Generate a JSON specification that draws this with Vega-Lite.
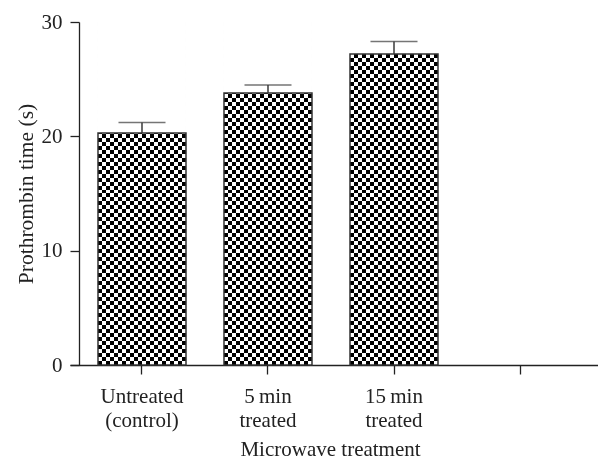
{
"$schema":"https://vega.github.io/schema/vega-lite/v6.json",
"autosize":"none",
"width":528,"height":343,
"padding":{"left":70,"top":22,"right":0,"bottom":96},
"background":"white",
"data":{"values":[
{"treatment":"Untreated|(control)","mean":20.3,"upper":21.2},
{"treatment":"5\u2009min|treated","mean":23.8,"upper":24.5},
{"treatment":"15\u2009min|treated","mean":27.2,"upper":28.3}
]},
"encoding":{
"x":{"field":"treatment","type":"nominal","title":"Microwave treatment",
"scale":{"domain":["Untreated|(control)","5\u2009min|treated","15\u2009min|treated","blank"],"paddingInner":0.3016,"paddingOuter":0.246,"align":0.4516}}
},
"layer":[
{"mark":{"type":"bar","fill":{"gradient":"linear","x1":0,"y1":0,"x2":1,"y2":0,"stops":[
{"offset":0,"color":"#000"},
{"offset":0.04545,"color":"#000"},{"offset":0.04545,"color":"#fff"},
{"offset":0.09091,"color":"#fff"},{"offset":0.09091,"color":"#000"},
{"offset":0.13636,"color":"#000"},{"offset":0.13636,"color":"#fff"},
{"offset":0.18182,"color":"#fff"},{"offset":0.18182,"color":"#000"},
{"offset":0.22727,"color":"#000"},{"offset":0.22727,"color":"#fff"},
{"offset":0.27273,"color":"#fff"},{"offset":0.27273,"color":"#000"},
{"offset":0.31818,"color":"#000"},{"offset":0.31818,"color":"#fff"},
{"offset":0.36364,"color":"#fff"},{"offset":0.36364,"color":"#000"},
{"offset":0.40909,"color":"#000"},{"offset":0.40909,"color":"#fff"},
{"offset":0.45455,"color":"#fff"},{"offset":0.45455,"color":"#000"},
{"offset":0.5,"color":"#000"},{"offset":0.5,"color":"#fff"},
{"offset":0.54545,"color":"#fff"},{"offset":0.54545,"color":"#000"},
{"offset":0.59091,"color":"#000"},{"offset":0.59091,"color":"#fff"},
{"offset":0.63636,"color":"#fff"},{"offset":0.63636,"color":"#000"},
{"offset":0.68182,"color":"#000"},{"offset":0.68182,"color":"#fff"},
{"offset":0.72727,"color":"#fff"},{"offset":0.72727,"color":"#000"},
{"offset":0.77273,"color":"#000"},{"offset":0.77273,"color":"#fff"},
{"offset":0.81818,"color":"#fff"},{"offset":0.81818,"color":"#000"},
{"offset":0.86364,"color":"#000"},{"offset":0.86364,"color":"#fff"},
{"offset":0.90909,"color":"#fff"},{"offset":0.90909,"color":"#000"},
{"offset":0.95455,"color":"#000"},{"offset":0.95455,"color":"#fff"},
{"offset":1,"color":"#fff"}
]}},
"encoding":{"y":{"field":"mean","type":"quantitative","title":"Prothrombin time (s)","scale":{"domain":[0,30],"nice":false},"axis":{"values":[0,10,20,30]}}}},
{"mark":{"type":"bar","blend":"difference","fill":{"gradient":"linear","x1":0,"y1":0,"x2":0,"y2":1,"stops":[
{"offset":0,"color":"#fff"},
{"offset":0.01163,"color":"#fff"},{"offset":0.01163,"color":"#000"},
{"offset":0.02326,"color":"#000"},{"offset":0.02326,"color":"#fff"},
{"offset":0.03488,"color":"#fff"},{"offset":0.03488,"color":"#000"},
{"offset":0.04651,"color":"#000"},{"offset":0.04651,"color":"#fff"},
{"offset":0.05814,"color":"#fff"},{"offset":0.05814,"color":"#000"},
{"offset":0.06977,"color":"#000"},{"offset":0.06977,"color":"#fff"},
{"offset":0.08140,"color":"#fff"},{"offset":0.08140,"color":"#000"},
{"offset":0.09302,"color":"#000"},{"offset":0.09302,"color":"#fff"},
{"offset":0.10465,"color":"#fff"},{"offset":0.10465,"color":"#000"},
{"offset":0.11628,"color":"#000"},{"offset":0.11628,"color":"#fff"},
{"offset":0.12791,"color":"#fff"},{"offset":0.12791,"color":"#000"},
{"offset":0.13953,"color":"#000"},{"offset":0.13953,"color":"#fff"},
{"offset":0.15116,"color":"#fff"},{"offset":0.15116,"color":"#000"},
{"offset":0.16279,"color":"#000"},{"offset":0.16279,"color":"#fff"},
{"offset":0.17442,"color":"#fff"},{"offset":0.17442,"color":"#000"},
{"offset":0.18605,"color":"#000"},{"offset":0.18605,"color":"#fff"},
{"offset":0.19767,"color":"#fff"},{"offset":0.19767,"color":"#000"},
{"offset":0.20930,"color":"#000"},{"offset":0.20930,"color":"#fff"},
{"offset":0.22093,"color":"#fff"},{"offset":0.22093,"color":"#000"},
{"offset":0.23256,"color":"#000"},{"offset":0.23256,"color":"#fff"},
{"offset":0.24419,"color":"#fff"},{"offset":0.24419,"color":"#000"},
{"offset":0.25581,"color":"#000"},{"offset":0.25581,"color":"#fff"},
{"offset":0.26744,"color":"#fff"},{"offset":0.26744,"color":"#000"},
{"offset":0.27907,"color":"#000"},{"offset":0.27907,"color":"#fff"},
{"offset":0.29070,"color":"#fff"},{"offset":0.29070,"color":"#000"},
{"offset":0.30233,"color":"#000"},{"offset":0.30233,"color":"#fff"},
{"offset":0.31395,"color":"#fff"},{"offset":0.31395,"color":"#000"},
{"offset":0.32558,"color":"#000"},{"offset":0.32558,"color":"#fff"},
{"offset":0.33721,"color":"#fff"},{"offset":0.33721,"color":"#000"},
{"offset":0.34884,"color":"#000"},{"offset":0.34884,"color":"#fff"},
{"offset":0.36047,"color":"#fff"},{"offset":0.36047,"color":"#000"},
{"offset":0.37209,"color":"#000"},{"offset":0.37209,"color":"#fff"},
{"offset":0.38372,"color":"#fff"},{"offset":0.38372,"color":"#000"},
{"offset":0.39535,"color":"#000"},{"offset":0.39535,"color":"#fff"},
{"offset":0.40698,"color":"#fff"},{"offset":0.40698,"color":"#000"},
{"offset":0.41860,"color":"#000"},{"offset":0.41860,"color":"#fff"},
{"offset":0.43023,"color":"#fff"},{"offset":0.43023,"color":"#000"},
{"offset":0.44186,"color":"#000"},{"offset":0.44186,"color":"#fff"},
{"offset":0.45349,"color":"#fff"},{"offset":0.45349,"color":"#000"},
{"offset":0.46512,"color":"#000"},{"offset":0.46512,"color":"#fff"},
{"offset":0.47674,"color":"#fff"},{"offset":0.47674,"color":"#000"},
{"offset":0.48837,"color":"#000"},{"offset":0.48837,"color":"#fff"},
{"offset":0.50000,"color":"#fff"},{"offset":0.50000,"color":"#000"},
{"offset":0.51163,"color":"#000"},{"offset":0.51163,"color":"#fff"},
{"offset":0.52326,"color":"#fff"},{"offset":0.52326,"color":"#000"},
{"offset":0.53488,"color":"#000"},{"offset":0.53488,"color":"#fff"},
{"offset":0.54651,"color":"#fff"},{"offset":0.54651,"color":"#000"},
{"offset":0.55814,"color":"#000"},{"offset":0.55814,"color":"#fff"},
{"offset":0.56977,"color":"#fff"},{"offset":0.56977,"color":"#000"},
{"offset":0.58140,"color":"#000"},{"offset":0.58140,"color":"#fff"},
{"offset":0.59302,"color":"#fff"},{"offset":0.59302,"color":"#000"},
{"offset":0.60465,"color":"#000"},{"offset":0.60465,"color":"#fff"},
{"offset":0.61628,"color":"#fff"},{"offset":0.61628,"color":"#000"},
{"offset":0.62791,"color":"#000"},{"offset":0.62791,"color":"#fff"},
{"offset":0.63953,"color":"#fff"},{"offset":0.63953,"color":"#000"},
{"offset":0.65116,"color":"#000"},{"offset":0.65116,"color":"#fff"},
{"offset":0.66279,"color":"#fff"},{"offset":0.66279,"color":"#000"},
{"offset":0.67442,"color":"#000"},{"offset":0.67442,"color":"#fff"},
{"offset":0.68605,"color":"#fff"},{"offset":0.68605,"color":"#000"},
{"offset":0.69767,"color":"#000"},{"offset":0.69767,"color":"#fff"},
{"offset":0.70930,"color":"#fff"},{"offset":0.70930,"color":"#000"},
{"offset":0.72093,"color":"#000"},{"offset":0.72093,"color":"#fff"},
{"offset":0.73256,"color":"#fff"},{"offset":0.73256,"color":"#000"},
{"offset":0.74419,"color":"#000"},{"offset":0.74419,"color":"#fff"},
{"offset":0.75581,"color":"#fff"},{"offset":0.75581,"color":"#000"},
{"offset":0.76744,"color":"#000"},{"offset":0.76744,"color":"#fff"},
{"offset":0.77907,"color":"#fff"},{"offset":0.77907,"color":"#000"},
{"offset":0.79070,"color":"#000"},{"offset":0.79070,"color":"#fff"},
{"offset":0.80233,"color":"#fff"},{"offset":0.80233,"color":"#000"},
{"offset":0.81395,"color":"#000"},{"offset":0.81395,"color":"#fff"},
{"offset":0.82558,"color":"#fff"},{"offset":0.82558,"color":"#000"},
{"offset":0.83721,"color":"#000"},{"offset":0.83721,"color":"#fff"},
{"offset":0.84884,"color":"#fff"},{"offset":0.84884,"color":"#000"},
{"offset":0.86047,"color":"#000"},{"offset":0.86047,"color":"#fff"},
{"offset":0.87209,"color":"#fff"},{"offset":0.87209,"color":"#000"},
{"offset":0.88372,"color":"#000"},{"offset":0.88372,"color":"#fff"},
{"offset":0.89535,"color":"#fff"},{"offset":0.89535,"color":"#000"},
{"offset":0.90698,"color":"#000"},{"offset":0.90698,"color":"#fff"},
{"offset":0.91860,"color":"#fff"},{"offset":0.91860,"color":"#000"},
{"offset":0.93023,"color":"#000"},{"offset":0.93023,"color":"#fff"},
{"offset":0.94186,"color":"#fff"},{"offset":0.94186,"color":"#000"},
{"offset":0.95349,"color":"#000"},{"offset":0.95349,"color":"#fff"},
{"offset":0.96512,"color":"#fff"},{"offset":0.96512,"color":"#000"},
{"offset":0.97674,"color":"#000"},{"offset":0.97674,"color":"#fff"},
{"offset":0.98837,"color":"#fff"},{"offset":0.98837,"color":"#000"},
{"offset":1,"color":"#000"}
]}},
"encoding":{"y":{"datum":30,"type":"quantitative","title":"Prothrombin time (s)"},"y2":{"datum":0}}},
{"mark":{"type":"bar","fill":"white"},
"encoding":{"y":{"field":"mean","type":"quantitative","title":"Prothrombin time (s)"},"y2":{"datum":30}}},
{"mark":{"type":"bar","fill":"transparent","stroke":"#333","strokeWidth":1.5},
"encoding":{"y":{"field":"mean","type":"quantitative","title":"Prothrombin time (s)"}}},
{"mark":{"type":"rule","color":"#3a3a3a","strokeWidth":1.5},
"encoding":{"y":{"field":"mean","type":"quantitative","title":"Prothrombin time (s)"},"y2":{"field":"upper"}}},
{"mark":{"type":"tick","color":"#3a3a3a","size":47,"thickness":1.5},
"encoding":{"y":{"field":"upper","type":"quantitative","title":"Prothrombin time (s)"}}}
],
"config":{
"view":{"stroke":null},
"font":"Liberation Serif",
"axis":{"domainColor":"#222","tickColor":"#222","labelColor":"#222","titleColor":"#222","labelFont":"Liberation Serif","titleFont":"Liberation Serif","labelFontSize":21,"titleFontSize":21,"titleFontWeight":"normal","grid":false,"tickSize":9,"domainWidth":1.3,"tickWidth":1.3},
"axisY":{"offset":-9,"labelPadding":8,"titlePadding":4,"titleFontSize":21.5},
"axisX":{"labelAngle":0,"labelPadding":11,"labelLineHeight":24,"labelOverlap":false,"labelExpr":"datum.value == 'blank' ? '' : split(datum.value, '|')","titleY":90,"titleBaseline":"alphabetic","titleX":260}
}
}
